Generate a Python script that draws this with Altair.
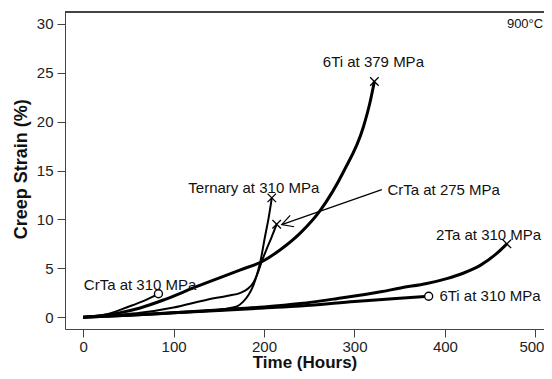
import altair as alt
import pandas as pd

# ---- data ----
t_6ti379 = [0, 20, 40, 63, 90, 126, 150, 174, 198, 218, 240, 262, 288, 310, 317, 322]
s_6ti379 = [0, 0.15, 0.45, 0.95, 1.8, 3.15, 4.0, 4.85, 5.7, 6.9, 8.6, 10.9, 14.9, 19.5, 21.9, 24.1]

t_tern = [0, 40, 100, 140, 160, 170, 177, 183, 188, 192, 196, 201, 205, 208.6]
s_tern = [0, 0.15, 0.45, 0.7, 0.9, 1.1, 1.6, 2.3, 3.2, 4.3, 5.7, 8.2, 10.1, 12.2]

t_crta275 = [0, 40, 63, 100, 137, 160, 174, 182, 188, 193, 197.5, 203, 208, 214]
s_crta275 = [0, 0.25, 0.45, 1.0, 1.8, 2.2, 2.5, 2.9, 3.5, 4.5, 5.7, 7.0, 8.1, 9.5]

t_crta310 = [0, 20, 35, 48, 65, 83.3]
s_crta310 = [0, 0.2, 0.55, 1.0, 1.6, 2.4]

t_6ti310 = [0, 50, 100, 150, 200, 240, 300, 350, 382]
s_6ti310 = [0, 0.2, 0.45, 0.7, 0.95, 1.15, 1.6, 1.95, 2.15]

t_2ta = [0, 50, 100, 150, 200, 240, 280, 329, 351, 380, 402, 420, 439, 457, 468.5]
s_2ta = [0, 0.2, 0.45, 0.75, 1.05, 1.4, 1.9, 2.6, 3.0, 3.45, 3.95, 4.5, 5.3, 6.5, 7.5]

series = [
    ("6Ti at 379 MPa", t_6ti379, s_6ti379),
    ("Ternary at 310 MPa", t_tern, s_tern),
    ("CrTa at 275 MPa", t_crta275, s_crta275),
    ("CrTa at 310 MPa", t_crta310, s_crta310),
    ("6Ti at 310 MPa", t_6ti310, s_6ti310),
    ("2Ta at 310 MPa", t_2ta, s_2ta),
]
thick_series = ["6Ti at 379 MPa", "6Ti at 310 MPa", "2Ta at 310 MPa"]
end_marker = {
    "6Ti at 379 MPa": "x", "Ternary at 310 MPa": "x", "CrTa at 275 MPa": "x",
    "2Ta at 310 MPa": "x", "CrTa at 310 MPa": "o", "6Ti at 310 MPa": "o",
}

# annotation labels
label_text = ["6Ti at 379 MPa", "Ternary at 310 MPa", "CrTa at 275 MPa",
              "2Ta at 310 MPa", "6Ti at 310 MPa", "CrTa at 310 MPa"]
label_t = [320.9, 188.7, 336.4, 448.3, 393.9, 63]
label_s = [26.1, 13.2, 13.04, 8.45, 2.15, 3.34]
label_align = ["center", "center", "left", "center", "left", "center"]

temp_text = ["900°C"]
temp_t = [508.6]
temp_s = [30.0]

# arrow for CrTa at 275 MPa
arrow_t = [330.2]
arrow_s = [13.04]
arrow_t2 = [219.6]
arrow_s2 = [9.47]

x_ticks = [0, 100, 200, 300, 400, 500]
y_ticks = [0, 5, 10, 15, 20, 25, 30]

# ---- tables ----
rows = []
for name, ts, ss in series:
    for i, (t, s) in enumerate(zip(ts, ss)):
        rows.append({"series": name, "order": i, "t": t, "s": s})
df = pd.DataFrame(rows)

ends = df.sort_values("order").groupby("series", as_index=False).last()
ends["marker"] = ends["series"].map(end_marker)

labels = pd.DataFrame({"text": label_text, "t": label_t, "s": label_s, "align": label_align})
temp = pd.DataFrame({"text": temp_text, "t": temp_t, "s": temp_s})
arrow = pd.DataFrame({"t": arrow_t, "s": arrow_s, "t2": arrow_t2, "s2": arrow_s2})

FONT = "Liberation Sans"
AX = "#444444"
W, H = 479, 317

x_scale = alt.Scale(domain=[-20, 509.5], nice=False, zero=False)
y_scale = alt.Scale(domain=[-1.2, 31.2], nice=False, zero=False)

x_axis = alt.Axis(values=x_ticks, title="Time (Hours)", domain=True, domainColor=AX, domainWidth=1,
                  grid=False, tickSize=8, tickColor=AX, tickWidth=1,
                  labelFont=FONT, labelFontSize=15, labelColor="#222222", labelPadding=2,
                  labelOffset={"condition": {"test": "datum.value == 500", "value": -4}, "value": 0},
                  titleFont=FONT, titleFontSize=17, titleFontWeight="bold", titleColor="#111111",
                  titleY=38.5, titleBaseline="alphabetic")
y_axis = alt.Axis(values=y_ticks, title="Creep Strain (%)", domain=True, domainColor=AX, domainWidth=1,
                  grid=False, tickSize=8, tickColor=AX, tickWidth=1,
                  labelFont=FONT, labelFontSize=15, labelColor="#222222", labelPadding=4,
                  titleFont=FONT, titleFontSize=18, titleFontWeight="bold", titleColor="#111111",
                  titleAngle=-90, titleX=-44, titleY=156.7, titleAlign="center",
                  titleBaseline="middle")

X = alt.X("t:Q", scale=x_scale, axis=x_axis)
Y = alt.Y("s:Q", scale=y_scale, axis=y_axis)

base = alt.Chart(df).encode(x=X, y=Y, detail="series:N", order="order:Q")
thick = base.transform_filter(
    alt.FieldOneOfPredicate(field="series", oneOf=thick_series)
).mark_line(color="black", strokeWidth=3, interpolate="monotone")
thin = base.transform_filter(
    ~alt.FieldOneOfPredicate(field="series", oneOf=thick_series)
).mark_line(color="black", strokeWidth=2, interpolate="monotone")

top_line = alt.Chart(df).mark_rule(color=AX, strokeWidth=1).encode(
    x=alt.value(0), x2=alt.value(W), y=alt.value(0))

xs = alt.Chart(ends).transform_filter(alt.datum.marker == "x").mark_point(
    shape="M-1,-1L1,1M1,-1L-1,1", size=72, filled=False, color="black", strokeWidth=1.3, opacity=1
).encode(x=alt.X("t:Q", scale=x_scale), y=alt.Y("s:Q", scale=y_scale))
os_ = alt.Chart(ends).transform_filter(alt.datum.marker == "o").mark_point(
    shape="circle", size=64, filled=True, fill="white", stroke="black", strokeWidth=1.4, opacity=1
).encode(x=alt.X("t:Q", scale=x_scale), y=alt.Y("s:Q", scale=y_scale))

arrow_line = alt.Chart(arrow).mark_rule(color="black", strokeWidth=1.2).encode(
    x=alt.X("t:Q", scale=x_scale), y=alt.Y("s:Q", scale=y_scale),
    x2="t2:Q", y2="s2:Q")
arrow_head = alt.Chart(arrow).mark_point(
    shape="M-1,-0.55L0,0L-1,0.55", size=484, angle=161, filled=False,
    color="black", strokeWidth=1.2, opacity=1
).encode(x=alt.X("t2:Q", scale=x_scale), y=alt.Y("s2:Q", scale=y_scale))

text_layers = []
for al in ["center", "left", "right"]:
    text_layers.append(
        alt.Chart(labels).transform_filter(alt.datum.align == al).mark_text(
            font=FONT, fontSize=15, color="#111111", align=al, baseline="middle"
        ).encode(x=alt.X("t:Q", scale=x_scale), y=alt.Y("s:Q", scale=y_scale), text="text:N")
    )
temp_layer = alt.Chart(temp).mark_text(
    font=FONT, fontSize=13, color="#111111", align="right", baseline="middle"
).encode(x=alt.X("t:Q", scale=x_scale), y=alt.Y("s:Q", scale=y_scale), text="text:N")

chart = alt.layer(thin, thick, top_line, arrow_line, arrow_head, xs, os_,
                  *text_layers, temp_layer).properties(
    width=W, height=H,
    autosize=alt.AutoSizeParams(type="none"),
    padding={"left": 57, "top": 4, "right": 0, "bottom": 42},
).configure_view(stroke=None).configure(background="white")

chart.save("out.html", embed_options={"renderer": "svg", "actions": False})
